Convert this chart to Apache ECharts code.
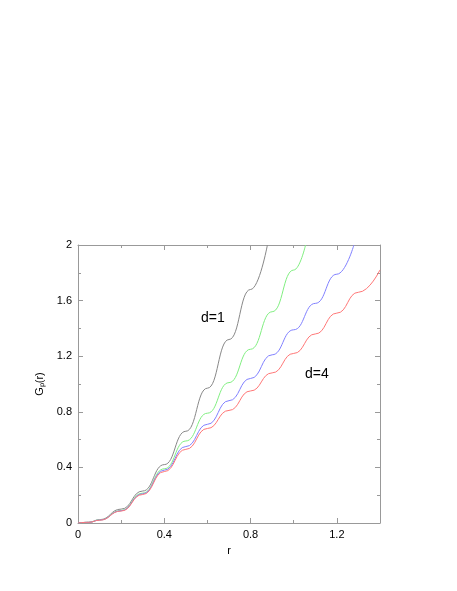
<!DOCTYPE html>
<html><head><meta charset="utf-8">
<script src="https://cdn.jsdelivr.net/npm/echarts@6/dist/echarts.min.js"></script>
<style>html,body{margin:0;background:#fff}#c{width:457px;height:591px}</style>
</head><body><div id="c"></div>
<script>
// G_P(r) curves: [r, G]
var d1 = [[0,0],[0.05,0.005],[0.1,0.024],[0.2,0.1],[0.3,0.23],[0.4,0.42],[0.5,0.66],[0.6,0.97],[0.7,1.32],[0.8,1.68],[0.878,2.0]];
var d2 = [[0,0],[0.05,0.005],[0.1,0.022],[0.2,0.09],[0.3,0.215],[0.4,0.39],[0.5,0.59],[0.6,0.79],[0.7,1.01],[0.8,1.25],[0.9,1.52],[1.0,1.82],[1.055,2.0]];
var d3 = [[0,0],[0.05,0.005],[0.1,0.021],[0.2,0.088],[0.3,0.21],[0.4,0.38],[0.5,0.55],[0.6,0.71],[0.7,0.88],[0.8,1.04],[0.9,1.21],[1.0,1.39],[1.1,1.58],[1.2,1.79],[1.279,2.0]];
var d4 = [[0,0],[0.05,0.005],[0.1,0.02],[0.2,0.086],[0.3,0.205],[0.4,0.37],[0.5,0.53],[0.6,0.68],[0.7,0.81],[0.8,0.95],[0.9,1.08],[1.0,1.22],[1.1,1.36],[1.2,1.51],[1.3,1.66],[1.4,1.821]];
var seriesNames = ['d=1', 'd=2', 'd=3', 'd=4'];
var seriesColors = ['#888888', '#80ee80', '#8080ff', '#ff7777'];
var seriesData = [d1, d2, d3, d4];

var tickFont = { fontFamily: 'Liberation Sans', fontSize: 11, color: '#000' };
function ax(pos, show, extra) {
  var a = {
    type: 'value', position: pos, min: 0,
    axisLine: { show: true, onZero: false, lineStyle: { color: '#999', width: 1 } },
    axisTick: { show: true, inside: true, length: 5, lineStyle: { color: '#999' } },
    minorTick: { show: true, splitNumber: 2, length: 3, lineStyle: { color: '#999' } },
    splitLine: { show: false },
    axisLabel: Object.assign({ show: show, margin: 6 }, tickFont)
  };
  return Object.assign(a, extra);
}
var chart = echarts.init(document.getElementById('c'));
chart.setOption({
  animation: false,
  grid: { left: 78, right: 77, top: 245, bottom: 68 },
  xAxis: [
    ax('bottom', true, { max: 1.4, interval: 0.4, name: 'r', nameLocation: 'middle', nameGap: 22, nameTextStyle: tickFont,
      axisLabel: Object.assign({ show: true, margin: 6, showMaxLabel: false }, tickFont) }),
    ax('top', false, { max: 1.4, interval: 0.4 })
  ],
  yAxis: [
    ax('left', true, { max: 2, interval: 0.4, name: 'G\u209a(r)', nameLocation: 'middle', nameGap: 30,
      nameTextStyle: tickFont }),
    ax('right', false, { max: 2, interval: 0.4 })
  ],
  series: seriesData.map(function (d, i) {
    return { name: seriesNames[i], type: 'line', smooth: true, smoothMonotone: 'x', showSymbol: false, clip: true,
      lineStyle: { color: seriesColors[i], width: 1 }, data: d };
  }),
  graphic: [
    { type: 'text', left: 201, top: 311, style: { text: 'd=1', fontFamily: 'Liberation Sans', fontSize: 14, fill: '#000' } },
    { type: 'text', left: 305, top: 367, style: { text: 'd=4', fontFamily: 'Liberation Sans', fontSize: 14, fill: '#000' } }
  ]
});
</script></body></html>
